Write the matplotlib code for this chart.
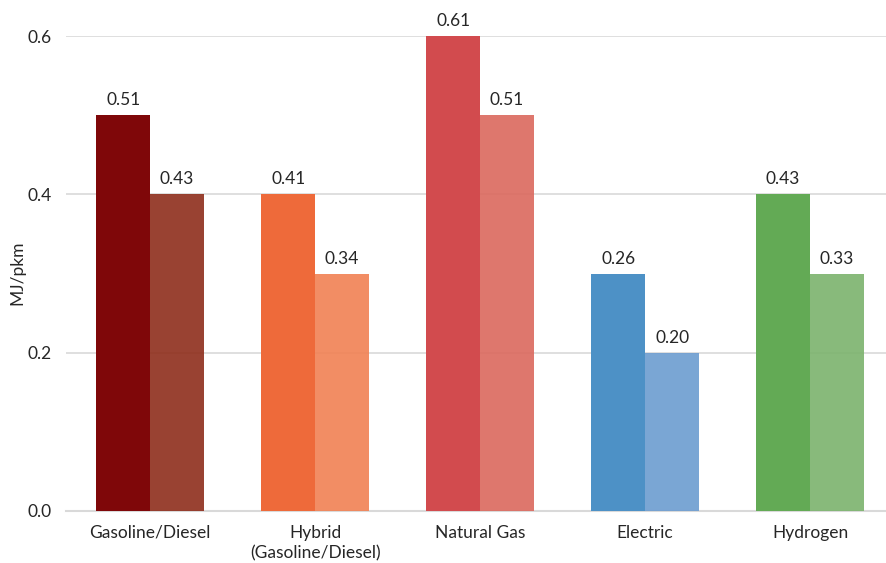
import matplotlib.pyplot as plt
import matplotlib.colors as mcolors
import numpy as np

plt.rcParams['font.family'] = ['Lato', 'DejaVu Sans']

categories = ["Gasoline/Diesel", "Hybrid\n(Gasoline/Diesel)", "Natural Gas", "Electric", "Hydrogen"]
series_a = [0.5, 0.4, 0.6, 0.3, 0.4]
series_b = [0.4, 0.3, 0.5, 0.2, 0.3]
labels_a = ["0.51", "0.41", "0.61", "0.26", "0.43"]
labels_b = ["0.43", "0.34", "0.51", "0.20", "0.33"]
colors_a = ["#7F0709", "#EE6A3A", "#D24B4E", "#4D91C6", "#63AA55"]
colors_b = ["#994232", "#F28E64", "#DF776D", "#7BA6D5", "#88BB7C"]
yticks = [0.0, 0.2, 0.4, 0.6]

ALPHA_B = 0.9
def base_for_alpha(hexc, a):
    r = np.array(mcolors.to_rgb(hexc))
    return tuple(np.clip((r - (1 - a)) / a, 0, 1))

fig = plt.figure(figsize=(8.86, 5.63), dpi=100)
ax = fig.add_axes([0.0745, 0.0924, 0.9255, 0.8436])

x = np.arange(len(categories))
w = 0.327
ax.bar(x - w/2, series_a, width=w, color=colors_a, zorder=3)
ax.bar(x + w/2, series_b, width=w, color=[base_for_alpha(c, ALPHA_B) for c in colors_b],
       alpha=ALPHA_B, zorder=3)

fs = 12.5
for xi, v, t in zip(x - w/2, series_a, labels_a):
    ax.annotate(t, (xi, v), xytext=(0, 5), textcoords='offset points', ha='center', va='bottom',
                fontsize=fs, color='#262626')
for xi, v, t in zip(x + w/2, series_b, labels_b):
    ax.annotate(t, (xi, v), xytext=(0, 5), textcoords='offset points', ha='center', va='bottom',
                fontsize=fs, color='#262626')

ax.set_xlim(-0.51, 4.46)
ax.set_ylim(0, 0.6)
ax.set_yticks(yticks)
ax.set_yticklabels([f"{t:.1f}" for t in yticks])
ax.set_xticks(x)
ax.set_xticklabels(categories, linespacing=1.35)
ax.tick_params(axis='both', length=0, labelsize=fs, colors='#262626')
ax.tick_params(axis='y', pad=10)
ax.tick_params(axis='x', pad=10)
ax.grid(axis='y', color='#D9D9D9', linewidth=1.2, zorder=0)
ax.set_axisbelow(True)
for s in ['top', 'right', 'left']:
    ax.spines[s].set_visible(False)
ax.spines['bottom'].set_color('#D9D9D9')
ax.spines['bottom'].set_linewidth(1.5)
fig.text(17/886, 1 - 273/563, "MJ/pkm", rotation=90, ha='center', va='center',
         fontsize=fs, color='#262626')

fig.savefig("out.png", dpi=100)
